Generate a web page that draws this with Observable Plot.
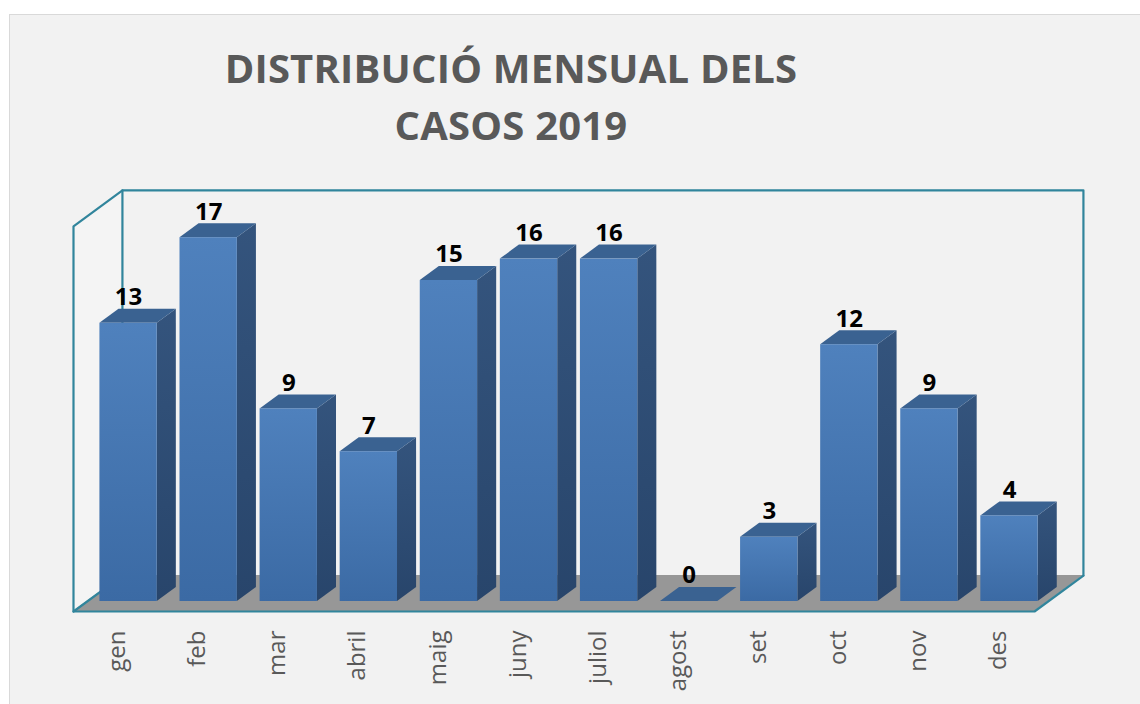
<!DOCTYPE html>
<html>
<head>
<meta charset="utf-8">
<script src="https://cdn.jsdelivr.net/npm/d3@7"></script>
<script src="https://cdn.jsdelivr.net/npm/@observablehq/plot@0.6"></script>
<style>
  html, body { margin: 0; padding: 0; background: #ffffff; overflow: hidden; }
  #box {
    position: absolute; left: 9px; top: 14px; width: 1160px; height: 720px;
    background: #f2f2f2; border: 1px solid #d9d9d9; box-sizing: border-box;
  }
  #title {
    position: absolute; left: 0; top: 24px; width: 1002px; text-align: center;
    font-family: "Open Sans", sans-serif; font-weight: 700; font-size: 40px;
    line-height: 57px; color: #595959; letter-spacing: 0.2px;
  }
  #chart { position: absolute; left: 0; top: 148px; }
</style>
</head>
<body>
<div id="box">
  <div id="title">DISTRIBUCIÓ MENSUAL DELS<br>CASOS 2019</div>
  <div id="chart"></div>
</div>
<script>
// ---- data ----
const months = ["gen", "feb", "mar", "abril", "maig", "juny", "juliol", "agost", "set", "oct", "nov", "des"];
const cases = [13, 17, 9, 7, 15, 16, 16, 0, 3, 12, 9, 4];
const wallMax = 18;

// ---- oblique 3D projection parameters (in scale units) ----
const DX = 0.611;   // full depth offset along x (categories)
const DY = 1.68;    // full depth offset along y (value units)
const d0 = 0.278;   // bar front depth
const d1 = 0.668;   // bar back depth
const gapL = 0.16, barW = 0.716;
const n = months.length;

const bars = months.map((m, i) => ({m, i, v: cases[i], xL: i + gapL, xR: i + gapL + barW}));

const sides = bars.flatMap(b => [
  {m: b.m, x: b.xR + d0 * DX, y1: d0 * DY, y2: b.v + d0 * DY},
  {m: b.m, x: b.xR + d1 * DX, y1: d1 * DY, y2: b.v + d1 * DY}
]);
const tops = bars.flatMap(b => [
  {m: b.m, y: b.v + d0 * DY, x1: b.xL + d0 * DX, x2: b.xR + d0 * DX},
  {m: b.m, y: b.v + d1 * DY, x1: b.xL + d1 * DX, x2: b.xR + d1 * DX}
]);
const floor = [
  {y: 0, x1: 0, x2: n},
  {y: DY, x1: DX, x2: n + DX}
];
const leftWall = [
  {x: 0, y1: 0, y2: wallMax},
  {x: DX, y1: DY, y2: wallMax + DY}
];
const backWallLines = [
  {x: DX, y: DY}, {x: DX, y: wallMax + DY}, {x: n + DX, y: wallMax + DY}, {x: n + DX, y: DY}
];
const leftWallLines = [
  {x: DX, y: wallMax + DY}, {x: 0, y: wallMax}, {x: 0, y: 0}, {x: n, y: 0}, {x: n + DX, y: DY}
];
const floorLeftLine = [{x: 0, y: 0}, {x: DX, y: DY}];

const teal = "#31859c";

const defs = () => {
  const d = d3.create("svg:defs");
  const g1 = d.append("linearGradient").attr("id", "gFront").attr("x1", 0).attr("y1", 0).attr("x2", 0).attr("y2", 1);
  g1.append("stop").attr("offset", "0%").attr("stop-color", "#4f81bd");
  g1.append("stop").attr("offset", "100%").attr("stop-color", "#3b6aa4");
  const g2 = d.append("linearGradient").attr("id", "gSide").attr("x1", 0).attr("y1", 0).attr("x2", 0).attr("y2", 1);
  g2.append("stop").attr("offset", "0%").attr("stop-color", "#34547d");
  g2.append("stop").attr("offset", "100%").attr("stop-color", "#28456b");
  return d.node();
};

const plot = Plot.plot({
  width: 1130,
  height: 538,
  marginLeft: 63,
  marginRight: 106,
  marginTop: 20,
  marginBottom: 90,
  style: {fontFamily: "Open Sans, sans-serif", fontSize: "24px", background: "transparent", overflow: "visible"},
  x: {type: "linear", domain: [0, n]},
  y: {type: "linear", domain: [0, 20], axis: null},
  marks: [
    defs,
    Plot.areaY(leftWall, {x: "x", y1: "y1", y2: "y2", fill: "#f4f4f4"}),
    Plot.line(backWallLines, {x: "x", y: "y", stroke: teal, strokeWidth: 2.2}),
    Plot.areaX(floor, {y: "y", x1: "x1", x2: "x2", fill: "#979797"}),
    Plot.line(leftWallLines, {x: "x", y: "y", stroke: teal, strokeWidth: 2.2}),
    Plot.line(floorLeftLine, {x: "x", y: "y", stroke: teal, strokeWidth: 2.2}),
    Plot.areaY(sides, {x: "x", y1: "y1", y2: "y2", z: "m", fill: "url(#gSide)"}),
    Plot.areaX(tops, {y: "y", x1: "x1", x2: "x2", z: "m", fill: "#3a6291"}),
    Plot.rect(bars, {
      x1: d => d.xL + d0 * DX, x2: d => d.xR + d0 * DX,
      y1: d0 * DY, y2: d => d.v + d0 * DY,
      fill: "url(#gFront)"
    }),
    Plot.text(bars, {
      x: d => (d.xL + d.xR) / 2 + d0 * DX,
      y: d => d.v + d1 * DY,
      text: d => String(d.v),
      dy: -4, lineAnchor: "bottom",
      fontWeight: "bold", fontSize: 24, fill: "#000000"
    }),
    Plot.axisX({
      ticks: months.map((m, i) => i + 0.5),
      tickFormat: t => months[Math.floor(t)],
      tickRotate: -90, tickSize: 0, tickPadding: 19,
      dx: 4, fill: "#595959", fontSize: 24, label: null
    })
  ]
});
document.getElementById("chart").appendChild(plot);
</script>
</body>
</html>
